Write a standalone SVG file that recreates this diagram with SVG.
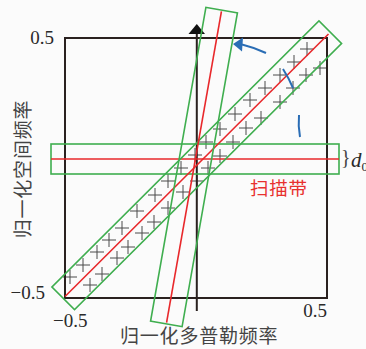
<svg xmlns="http://www.w3.org/2000/svg" xmlns:xlink="http://www.w3.org/1999/xlink" width="366" height="349" viewBox="0 0 366 349">
<style>
.g{fill:none;stroke:#3fae4f;stroke-width:1.6}
.r{fill:none;stroke:#e8282b;stroke-width:1.6}
.k{fill:none;stroke:#2a211f;stroke-width:2}
.x{fill:none;stroke:#4a4a4a;stroke-width:1}
.b{fill:none;stroke:#2a6db5;stroke-width:2}
.num{font-family:"Liberation Serif","Times New Roman",serif;font-size:19px;fill:#2a2a2a}
.cjk{font-family:"Noto Sans CJK SC","Noto Sans",sans-serif;font-size:19px;fill:#444;letter-spacing:0.8px}
</style>
<defs>
<path id="c" d="M-7,0H7M0,-7V7"/>
</defs>
<rect width="366" height="349" fill="#fbfbfb"/>
<g id="samples" class="x">
<use xlink:href="#c" x="70" y="277"/><use xlink:href="#c" x="83" y="265"/><use xlink:href="#c" x="97" y="252"/><use xlink:href="#c" x="109" y="240"/><use xlink:href="#c" x="122" y="228"/><use xlink:href="#c" x="137" y="211"/><use xlink:href="#c" x="155" y="195"/><use xlink:href="#c" x="168" y="181"/><use xlink:href="#c" x="181" y="168"/><use xlink:href="#c" x="195" y="155"/><use xlink:href="#c" x="206" y="142"/><use xlink:href="#c" x="220" y="129"/><use xlink:href="#c" x="235" y="114"/><use xlink:href="#c" x="250" y="100"/><use xlink:href="#c" x="265" y="88"/><use xlink:href="#c" x="280" y="75"/><use xlink:href="#c" x="294" y="62"/><use xlink:href="#c" x="307" y="49"/>
<use xlink:href="#c" x="90" y="285"/><use xlink:href="#c" x="102" y="274"/><use xlink:href="#c" x="117" y="258"/><use xlink:href="#c" x="128" y="247"/><use xlink:href="#c" x="142" y="233"/><use xlink:href="#c" x="154" y="222"/><use xlink:href="#c" x="168" y="208"/><use xlink:href="#c" x="183" y="192"/><use xlink:href="#c" x="197" y="181"/><use xlink:href="#c" x="208" y="168"/><use xlink:href="#c" x="220" y="156"/><use xlink:href="#c" x="233" y="142"/><use xlink:href="#c" x="246" y="128"/><use xlink:href="#c" x="261" y="118"/><use xlink:href="#c" x="280" y="102"/><use xlink:href="#c" x="293" y="88"/><use xlink:href="#c" x="306" y="75"/><use xlink:href="#c" x="320" y="68"/>
</g>
<g id="frame">
<rect class="k" x="65" y="38" width="262" height="260"/>
<line class="k" x1="196.8" y1="30" x2="196.8" y2="311"/>
<polygon points="196.8,24 188.5,34 205,34" fill="#111"/>
</g>
<g id="band-h">
<rect class="g" x="51" y="144" width="288" height="30"/>
<line class="r" x1="51" y1="159" x2="339" y2="159"/>
</g>
<g id="band-d" transform="translate(196.75,165.25) rotate(-44.9)">
<rect class="g" x="-188.5" y="-16" width="377" height="32"/>
<line class="r" x1="-186" y1="0" x2="186" y2="0"/>
</g>
<g id="band-s" transform="translate(194,167) rotate(10)">
<rect class="g" x="-16" y="-159.3" width="32" height="318.6"/>
<line class="r" x1="0" y1="-158" x2="0" y2="158"/>
</g>
<g id="connectors">
<path class="b" d="M266,53 A131,131 0 0 0 242,44.5"/>
<polygon points="233,44 243,37.5 242,51.5" fill="#2a6db5"/>
<path class="b" d="M283,69 A128,128 0 0 1 293,88"/>
<path class="b" d="M299,115 Q298,126 300,137"/>
</g>
<g id="labels">
<text class="num" x="42" y="44" text-anchor="middle">0.5</text>
<text class="num" x="45" y="299" text-anchor="end">−0.5</text>
<text class="num" x="53" y="327">−0.5</text>
<text class="num" x="327" y="317" text-anchor="end">0.5</text>
<text class="cjk" x="120" y="343">归一化多普勒频率</text>
<text class="cjk" transform="translate(30,169) rotate(-90)" text-anchor="middle">归一化空间频率</text>
<text class="cjk" x="250" y="195" style="fill:#e8312f;font-size:18.5px">扫描带</text>
<text class="num" x="341" y="164" style="font-size:20px;fill:#444">}</text>
<text class="num" x="351" y="167" style="font-size:21px;font-style:italic">d<tspan dy="4" style="font-size:13px;font-style:normal">0</tspan></text>
</g>
</svg>
